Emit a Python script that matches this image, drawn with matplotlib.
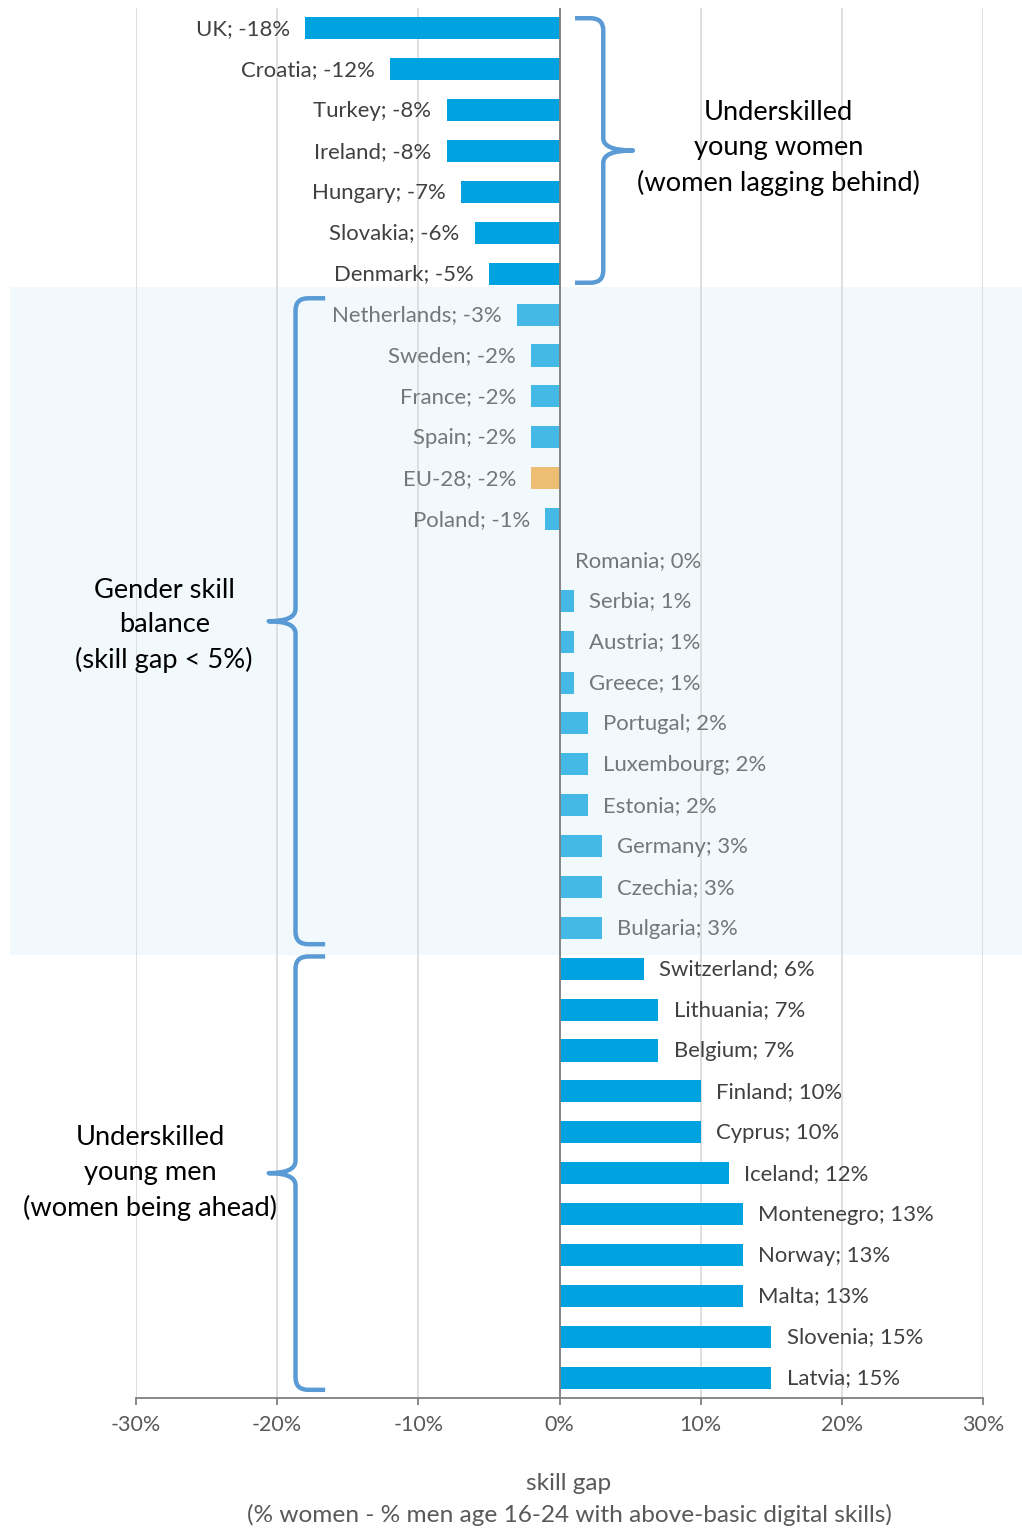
import matplotlib
matplotlib.use("Agg")
import matplotlib.pyplot as plt
from matplotlib.path import Path
from matplotlib.patches import PathPatch, Rectangle
from matplotlib.transforms import blended_transform_factory

countries = [
    "UK", "Croatia", "Turkey", "Ireland", "Hungary", "Slovakia", "Denmark",
    "Netherlands", "Sweden", "France", "Spain", "EU-28", "Poland", "Romania",
    "Serbia", "Austria", "Greece", "Portugal", "Luxembourg", "Estonia",
    "Germany", "Czechia", "Bulgaria", "Switzerland", "Lithuania", "Belgium",
    "Finland", "Cyprus", "Iceland", "Montenegro", "Norway", "Malta",
    "Slovenia", "Latvia",
]
gaps = [
    -18, -12, -8, -8, -7, -6, -5,
    -3, -2, -2, -2, -2, -1, 0,
    1, 1, 1, 2, 2, 2,
    3, 3, 3, 6, 7, 7,
    10, 10, 12, 13, 13, 13,
    15, 15,
]
group_texts = [
    "Underskilled\nyoung women\n(women lagging behind)",
    "Gender skill\nbalance\n(skill gap < 5%)",
    "Underskilled\nyoung men\n(women being ahead)",
]
xticks = [-30, -20, -10, 0, 10, 20, 30]

DARK = "#00a2e0"
LIGHT = "#44b9e6"
EU = "#edbd73"
BRACE = "#5b9bd5"
TXT_DARK = "#404040"
TXT_LIGHT = "#707879"

plt.rcParams["font.family"] = ["Lato", "DejaVu Sans"]

W, H = 1022, 1529
fig = plt.figure(figsize=(W / 100, H / 100), dpi=100)
ax = fig.add_axes([136 / W, 1 - 1398 / H, (983 - 136) / W, (1398 - 8) / H])
ax.patch.set_alpha(0)


def group_of(v):
    if v <= -5:
        return 0
    if v >= 5:
        return 2
    return 1


groups = [group_of(v) for v in gaps]
idx = list(range(len(countries)))

colors = []
for c, g in zip(countries, groups):
    if c == "EU-28":
        colors.append(EU)
    elif g == 1:
        colors.append(LIGHT)
    else:
        colors.append(DARK)

ax.barh(idx, gaps, height=0.54, color=colors, zorder=3)

for i, (c, v, g) in enumerate(zip(countries, gaps, groups)):
    col = TXT_LIGHT if g == 1 else TXT_DARK
    if v < 0:
        ax.annotate(f"{c}; {v}%", (v, i), xytext=(-11, -0.5), textcoords="offset points",
                    ha="right", va="center", fontsize=15.9, color=col, zorder=4)
    else:
        ax.annotate(f"{c}; {v}%", (v, i), xytext=(11, -0.5), textcoords="offset points",
                    ha="left", va="center", fontsize=15.9, color=col, zorder=4)

ax.set_xlim(-30, 30)
ax.set_ylim(len(countries) - 0.5, -0.5)
ax.set_xticks(xticks)
ax.set_xticklabels([f"{t}%" for t in xticks])
ax.set_yticks([])
ax.grid(axis="x", color="#d9d9d9", linewidth=1.2, zorder=0)
ax.axvline(0, color="#7f7f7f", linewidth=1.3, zorder=5)
for s in ["top", "right", "left"]:
    ax.spines[s].set_visible(False)
ax.spines["bottom"].set_color("#7f7f7f")
ax.spines["bottom"].set_linewidth(1.3)
ax.tick_params(axis="x", length=5, width=1.3, color="#7f7f7f", pad=7,
               labelsize=15.5, labelcolor="#595959")

ax.set_xlabel("skill gap\n(% women - % men age 16-24 with above-basic digital skills)",
              fontsize=17.6, color="#595959", linespacing=1.53, labelpad=27.5)
ax.xaxis.label.set_x((569 - 136) / (983 - 136))

# group index ranges
ranges = []
for g in range(3):
    members = [i for i, gg in enumerate(groups) if gg == g]
    ranges.append((members[0], members[-1]))

# shaded band for the balanced group
b0, b1 = ranges[1]
band_tr = blended_transform_factory(fig.transFigure, ax.transData)
ax.add_patch(Rectangle((10 / W, b0 - 0.67), 1 - 10 / W, (b1 - b0) + 1.33,
                       transform=band_tr, facecolor="#f2f9fd", edgecolor="none",
                       zorder=-5, clip_on=False))


def brace(x_end, x_spine, x_tip, y0, y1, rx, ry):
    ym = (y0 + y1) / 2
    sgn = 1 if x_end > x_spine else -1
    verts = [
        (x_end, y0), (x_spine + rx * sgn, y0),
        (x_spine, y0), (x_spine, y0 + ry),
        (x_spine, ym - ry),
        (x_spine, ym), (x_tip, ym),
        (x_spine, ym), (x_spine, ym + ry),
        (x_spine, y1 - ry),
        (x_spine, y1), (x_spine + rx * sgn, y1),
        (x_end, y1),
    ]
    codes = [Path.MOVETO, Path.LINETO,
             Path.CURVE3, Path.CURVE3,
             Path.LINETO,
             Path.CURVE3, Path.CURVE3,
             Path.CURVE3, Path.CURVE3,
             Path.LINETO,
             Path.CURVE3, Path.CURVE3,
             Path.LINETO]
    ax.add_patch(PathPatch(Path(verts, codes), facecolor="none", edgecolor=BRACE,
                           linewidth=3.2, capstyle="butt", joinstyle="round",
                           clip_on=False, zorder=6))


r0, r1 = ranges[0]
brace(1.1, 3.1, 5.2, r0 - 0.25, r1 + 0.22, 0.9, 0.3)
r0, r1 = ranges[1]
brace(-16.6, -18.7, -20.6, r0 - 0.4, r1 + 0.4, 0.9, 0.3)
r0, r1 = ranges[2]
brace(-16.6, -18.7, -20.6, r0 - 0.3, r1 + 0.3, 0.9, 0.3)

text_x = [15.5, -28.0, -29.0]
text_dy = [-0.08, 0.1, 0.0]
for g, (txt, tx, dy) in enumerate(zip(group_texts, text_x, text_dy)):
    r0, r1 = ranges[g]
    ax.text(tx, (r0 + r1) / 2 + dy, txt, ha="center", va="center", fontsize=19.6,
            color="black", linespacing=1.47, clip_on=False, zorder=6)

fig.savefig("out.png", dpi=100)
